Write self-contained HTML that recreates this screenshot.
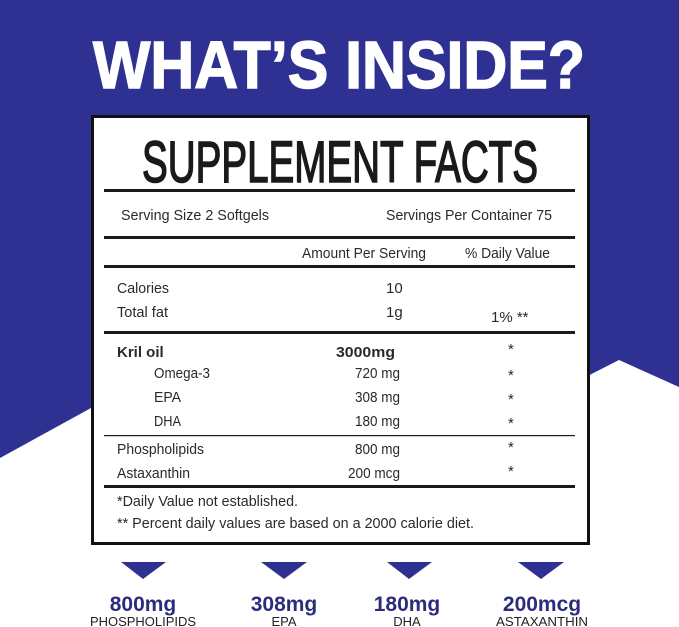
<!DOCTYPE html>
<html><head><meta charset="utf-8"><style>
html,body{margin:0;padding:0;background:#fff;}
svg{display:block}
.t{font-family:"Liberation Sans",sans-serif;fill:#2a2a2a;font-size:15px}
</style></head><body>
<svg width="679" height="627" viewBox="0 0 679 627" xmlns="http://www.w3.org/2000/svg">
<rect width="679" height="627" fill="#fff"/>
<polygon points="0,0 679,0 679,387 619,360 560,390 120,390 91,408 0,458" fill="#2e3192"/>
<text x="93" y="88" font-family="Liberation Sans, sans-serif" font-weight="900" font-size="67" fill="#fff" textLength="492" lengthAdjust="spacingAndGlyphs" stroke="#fff" stroke-width="1.5">WHAT’S INSIDE?</text>
<rect x="92.5" y="116.5" width="496" height="427" fill="#fff" stroke="#111" stroke-width="3"/>
<text x="142" y="182" font-family="Liberation Sans, sans-serif" font-size="58" fill="#1a1a1a" stroke="#1a1a1a" stroke-width="1.6" textLength="396" lengthAdjust="spacingAndGlyphs">SUPPLEMENT FACTS</text>
<g fill="#1a1a1a">
<rect x="104" y="189" width="471" height="3"/>
<rect x="104" y="236" width="471" height="3"/>
<rect x="104" y="265" width="471" height="3"/>
<rect x="104" y="331" width="471" height="3"/>
<rect x="104" y="435" width="471" height="1.2"/>
<rect x="104" y="485" width="471" height="3"/>
</g>
<g class="t">
<text x="121" y="220" textLength="148" lengthAdjust="spacingAndGlyphs">Serving Size 2 Softgels</text>
<text x="386" y="220" textLength="166" lengthAdjust="spacingAndGlyphs">Servings Per Container 75</text>
<text x="302" y="258" textLength="124" lengthAdjust="spacingAndGlyphs">Amount Per Serving</text>
<text x="465" y="258" textLength="85" lengthAdjust="spacingAndGlyphs">% Daily Value</text>
<text x="117" y="293" textLength="52" lengthAdjust="spacingAndGlyphs">Calories</text>
<text x="386" y="293">10</text>
<text x="117" y="317" textLength="51" lengthAdjust="spacingAndGlyphs">Total fat</text>
<text x="386" y="317">1g</text>
<text x="491" y="322">1% **</text>
<text x="117" y="357" font-weight="bold">Kril oil</text>
<text x="336" y="357" font-weight="bold" textLength="59" lengthAdjust="spacingAndGlyphs">3000mg</text>
<text x="154" y="378" textLength="56" lengthAdjust="spacingAndGlyphs">Omega-3</text>
<text x="355" y="378" textLength="45" lengthAdjust="spacingAndGlyphs">720 mg</text>
<text x="154" y="402" textLength="27" lengthAdjust="spacingAndGlyphs">EPA</text>
<text x="355" y="402" textLength="45" lengthAdjust="spacingAndGlyphs">308 mg</text>
<text x="154" y="426" textLength="27" lengthAdjust="spacingAndGlyphs">DHA</text>
<text x="355" y="426" textLength="45" lengthAdjust="spacingAndGlyphs">180 mg</text>
<text x="117" y="454" textLength="87" lengthAdjust="spacingAndGlyphs">Phospholipids</text>
<text x="355" y="454" textLength="45" lengthAdjust="spacingAndGlyphs">800 mg</text>
<text x="117" y="478" textLength="73" lengthAdjust="spacingAndGlyphs">Astaxanthin</text>
<text x="348" y="478" textLength="52" lengthAdjust="spacingAndGlyphs">200 mcg</text>
<text x="508" y="354">*</text><text x="508" y="380">*</text><text x="508" y="404">*</text><text x="508" y="428">*</text><text x="508" y="452">*</text><text x="508" y="476">*</text>
<text x="117" y="506" textLength="181" lengthAdjust="spacingAndGlyphs">*Daily Value not established.</text>
<text x="117" y="528" textLength="357" lengthAdjust="spacingAndGlyphs">** Percent daily values are based on a 2000 calorie diet.</text>
</g>
<g fill="#2e3192">
<polygon points="121,562 166,562 143,579"/>
<polygon points="261,562 307,562 284,579"/>
<polygon points="387,562 432,562 409,579"/>
<polygon points="518,562 564,562 541,579"/>
</g>
<g font-family="Liberation Sans, sans-serif" font-weight="bold" font-size="21" fill="#2b2d7c" text-anchor="middle">
<text x="143" y="611">800mg</text>
<text x="284" y="611">308mg</text>
<text x="407" y="611">180mg</text>
<text x="542" y="611">200mcg</text>
</g>
<g font-family="Liberation Sans, sans-serif" font-size="13" fill="#222" text-anchor="middle">
<text x="143" y="626" textLength="106" lengthAdjust="spacingAndGlyphs">PHOSPHOLIPIDS</text>
<text x="284" y="626">EPA</text>
<text x="407" y="626">DHA</text>
<text x="542" y="626" textLength="92" lengthAdjust="spacingAndGlyphs">ASTAXANTHIN</text>
</g>
</svg>
</body></html>
